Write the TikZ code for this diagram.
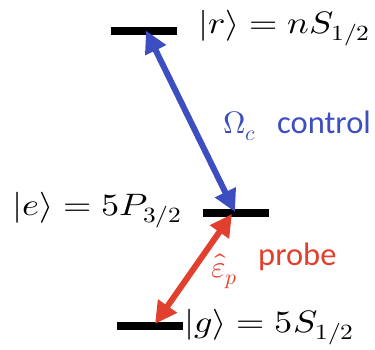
\documentclass[tikz,border=0pt]{standalone}
\usepackage{fontspec}
\usepackage{unicode-math}
\setmathfont{Latin Modern Math}
\setsansfont{Carlito}
\usetikzlibrary{arrows.meta}
\definecolor{ctrlblue}{RGB}{60,78,192}
\definecolor{probered}{RGB}{226,64,46}
\newcommand{\wide}[1]{\scalebox{1.17}[1]{#1}}
\tikzset{
  level/.style={fill=black,minimum width=66pt,minimum height=8pt,inner sep=0pt,outer sep=0pt},
  statelabel/.style={anchor=base west,inner sep=0pt,font=\fontsize{31}{36}\selectfont},
  beam/.style={line width=6pt,{Triangle[length=22pt,width=22pt]}-{Triangle[length=22pt,width=22pt]}},
  sidelabel/.style={anchor=base west,inner sep=0pt,font=\fontsize{32.5}{38}\selectfont\sffamily},
}
\begin{document}
\begin{tikzpicture}[x=1pt,y=-1pt]
\useasboundingbox (0,0) rectangle (375,349);
% levels
\node[level] (r) at (144,30.5) {};
\node[level] (e) at (236,213) {};
\node[level] (g) at (150,326) {};
% labels
\node[statelabel] (rl) at (198,33) {\wide{$|r\rangle = nS_{1/2}$}};
\node[statelabel] (el) at (12,215) {\wide{$|e\rangle = 5P_{3/2}$}};
\node[statelabel] (gl) at (184,332) {\wide{$|g\rangle = 5S_{1/2}$}};
% transitions
\draw[beam,ctrlblue] ([xshift=2pt,yshift=4pt]r.south) -- ([xshift=-1pt,yshift=-3pt]e.north);
\draw[beam,probered] ([xshift=-4pt,yshift=3pt]e.south) -- ([xshift=5pt,yshift=-2pt]g.north);
\node[statelabel,text=ctrlblue] (om) at (223,133) {$\Omega_c$};
\node[sidelabel,text=ctrlblue] (ct) at (277,133) {control};
\node[statelabel,text=probered] (ep) at (211,277) {$\hat{\varepsilon}_p$};
\node[sidelabel,text=probered] (pr) at (258,265) {probe};
\end{tikzpicture}
\end{document}
